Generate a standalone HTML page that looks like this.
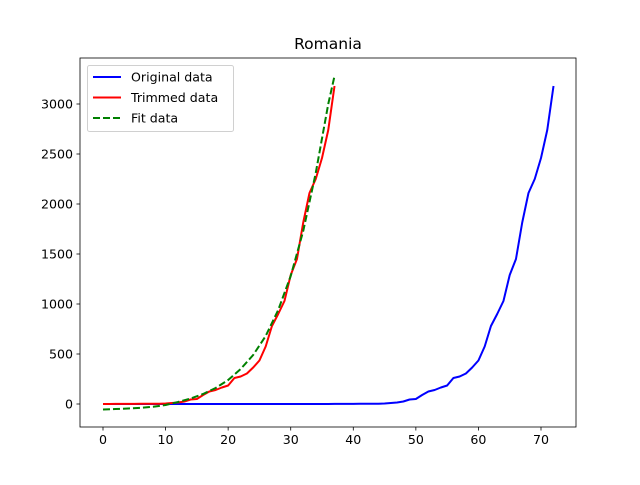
<!DOCTYPE html>
<html><head><meta charset="utf-8"><style>
body{margin:0;background:#fff;font-family:"Liberation Sans","DejaVu Sans",sans-serif}
svg text{font-family:"DejaVu Sans","Liberation Sans",sans-serif;font-size:12.6px}
svg text.title{font-size:15.5px}
</style></head><body>
<svg id="c" width="640" height="480"></svg>
<script>
const trimmedDays=[...Array(38).keys()];
const trimmedVals=[0,0,1,1,1,1,2,2,3,3,5,10,15,25,45,50,90,125,140,165,185,260,275,305,365,435,575,780,900,1030,1290,1450,1815,2110,2250,2460,2740,3180];
const originalOffset=35;
const fitDays=[0,2,4,6,8,10,12,14,16,18,20,22,24,26,28,30,32,34,36,37];
const fitVals=[-55,-50,-45,-38,-28,-10,20,55,100,160,240,350,490,680,940,1280,1730,2310,3000,3280];
const xTicks=[0,10,20,30,40,50,60,70];
const yTicks=[0,500,1000,1500,2000,2500,3000];
const NS="http://www.w3.org/2000/svg";
const svg=document.getElementById('c');
const L=80,R=576,T=58,B=427;
const X=v=>103+v*(541-103)/70;
const Y=v=>404-v*0.1;
function el(t,a,p){const e=document.createElementNS(NS,t);for(const k in a)e.setAttribute(k,a[k]);(p||svg).appendChild(e);return e;}
const origDays=[],origVals=[];
for(let i=0;i<originalOffset;i++){origDays.push(i);origVals.push(0);}
trimmedDays.forEach((d,i)=>{origDays.push(d+originalOffset);origVals.push(trimmedVals[i]);});
const t=el('text',{x:328,y:49,'text-anchor':'middle','class':'title'});t.textContent='Romania';


xTicks.forEach(v=>{const g=el('g',{});


el('line',{x1:X(v),x2:X(v),y1:B,y2:B+3.5,stroke:'#000','stroke-width':0.8},g);
const s=el('text',{x:X(v),y:B+17,'text-anchor':'middle'},g);s.textContent=v;});
yTicks.forEach(v=>{const g=el('g',{});


el('line',{x1:L-3.5,x2:L,y1:Y(v),y2:Y(v),stroke:'#000','stroke-width':0.8},g);
const s=el('text',{x:L-7,y:Y(v)+4.5,'text-anchor':'end'},g);s.textContent=v;});
function line(xs,ys,color,name,dash){const p=el('polyline',{points:xs.map((x,i)=>X(x)+','+Y(ys[i])).join(' '),fill:'none',stroke:color,'stroke-width':2,'stroke-linejoin':'round'});
if(dash)p.setAttribute('stroke-dasharray',dash);

}
line(origDays,origVals,'#0000ff','original-data-line');
line(trimmedDays,trimmedVals,'#ff0000','trimmed-data-line');
line(fitDays,fitVals,'#008000','fit-data-line','7,3');
const f=el('rect',{x:L,y:T,width:R-L,height:B-T,fill:'none',stroke:'#000','stroke-width':0.8});


const lg=el('g',{});


el('rect',{x:87.5,y:65.5,width:146,height:66,rx:2,fill:'#fff',stroke:'#ccc','stroke-width':1,opacity:0.9},lg);
[['Original data','#0000ff',''],['Trimmed data','#ff0000',''],['Fit data','#008000','7,3']].forEach((e,i)=>{
const y=77+i*20.5;const g=el('g',{},lg);


const l=el('line',{x1:93,x2:121,y1:y,y2:y,stroke:e[1],'stroke-width':2},g);if(e[2])l.setAttribute('stroke-dasharray',e[2]);
const s=el('text',{x:131,y:y+4.5},g);s.textContent=e[0];});
</script>
</body></html>
